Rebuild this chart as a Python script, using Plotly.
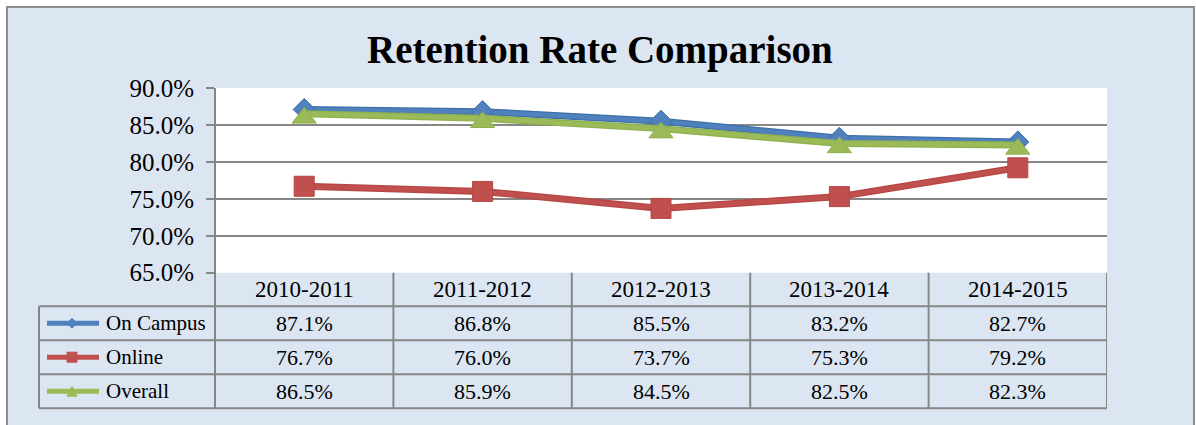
import plotly.graph_objects as go

# ---- data ----
years = ["2010-2011", "2011-2012", "2012-2013", "2013-2014", "2014-2015"]
on_campus = [87.1, 86.8, 85.5, 83.2, 82.7]
online = [76.7, 76.0, 73.7, 75.3, 79.2]
overall = [86.5, 85.9, 84.5, 82.5, 82.3]

series_names = ["On Campus", "Online", "Overall"]
series_values = [on_campus, online, overall]
series_colors = ["#4F81BD", "#C0504D", "#9BBB59"]
series_edges = ["#3F6FA8", "#B64643", "#8FB04E"]
series_symbols = ["diamond", "square", "triangle-up"]
series_marker_sizes = [17, 20, 21]
# shifts triangles so they sit centred on their points
series_standoffs = [0, 0, 4]

y_ticks = [65, 70, 75, 80, 85, 90]

# ---- page geometry (pixels) ----
W, H = 1196, 425
PLOT_L, PLOT_R, PLOT_T, PLOT_B = 215, 1107, 88, 272.7
TABLE_L = 39
ROW_H = 34
ROW_EDGES = [PLOT_B + 33.5 + i * ROW_H for i in range(4)]  # 306.2 .. 408.2
HEADER_MID = (PLOT_B + ROW_EDGES[0]) / 2

GRID = "#878787"
BG = "#DCE6F2"
FONT = "Liberation Serif"


def px(x):
    return x / W


def py(y):
    return 1 - y / H


fig = go.Figure()

for name, vals, col, edge, sym, ms, so in zip(series_names, series_values, series_colors,
                                              series_edges, series_symbols,
                                              series_marker_sizes, series_standoffs):
    # slightly darker, wider stroke underneath gives the line a soft edge
    fig.add_trace(go.Scatter(
        x=years, y=vals, mode="lines", line=dict(color=edge, width=7),
        showlegend=False, hoverinfo="skip", cliponaxis=False,
    ))
    fig.add_trace(go.Scatter(
        x=years, y=vals, name=name, mode="lines+markers",
        line=dict(color=col, width=4.5),
        marker=dict(symbol=sym, size=ms, color=col, standoff=so,
                    line=dict(color=edge, width=1)),
        showlegend=False, cliponaxis=False,
    ))

shapes = []
# chart area background with border
shapes.append(dict(type="rect", xref="paper", yref="paper",
                   x0=px(7), x1=px(1194), y0=py(440), y1=py(7),
                   fillcolor=BG, line=dict(color="#8E8E8E", width=2), layer="below"))
# white plot area
shapes.append(dict(type="rect", xref="paper", yref="paper",
                   x0=px(PLOT_L), x1=px(PLOT_R), y0=py(PLOT_B), y1=py(PLOT_T),
                   fillcolor="white", line=dict(width=0), layer="below"))

line_style = dict(color=GRID, width=2)
# left axis line down through the table
shapes.append(dict(type="line", xref="paper", yref="paper",
                   x0=px(PLOT_L), x1=px(PLOT_L), y0=py(PLOT_T), y1=py(ROW_EDGES[-1]),
                   line=line_style))
# column separators of the data table
for i in range(1, len(years) + 1):
    shapes.append(dict(type="line", xref="x", yref="paper",
                       x0=i - 0.5, x1=i - 0.5, y0=py(PLOT_B), y1=py(ROW_EDGES[-1]),
                       line=line_style))
# row separators
for yy in ROW_EDGES:
    shapes.append(dict(type="line", xref="paper", yref="paper",
                       x0=px(TABLE_L), x1=px(PLOT_R), y0=py(yy), y1=py(yy),
                       line=line_style))
# left border of the row-label column
shapes.append(dict(type="line", xref="paper", yref="paper",
                   x0=px(TABLE_L), x1=px(TABLE_L), y0=py(ROW_EDGES[0]), y1=py(ROW_EDGES[-1]),
                   line=line_style))

annotations = []
# title
annotations.append(dict(text="<b>Retention Rate Comparison</b>", xref="paper", yref="paper",
                        x=px(600), y=py(50), xanchor="center", yanchor="middle",
                        showarrow=False, font=dict(family=FONT, size=39, color="black")))
# header row
for yr in years:
    annotations.append(dict(text=yr, xref="x", yref="paper", x=yr, y=py(HEADER_MID),
                            xanchor="center", yanchor="middle", showarrow=False,
                            font=dict(family=FONT, size=23, color="black")))

# series rows: legend key, name, values
for r, (name, vals, col, sym) in enumerate(zip(series_names, series_values,
                                               series_colors, series_symbols)):
    mid = (ROW_EDGES[r] + ROW_EDGES[r + 1]) / 2
    shapes.append(dict(type="line", xref="paper", yref="paper",
                       x0=px(47), x1=px(99), y0=py(mid), y1=py(mid),
                       line=dict(color=col, width=5)))
    cx, s = 72, 5
    if sym == "diamond":
        path = f"M{px(cx)},{py(mid - s)} L{px(cx + s)},{py(mid)} L{px(cx)},{py(mid + s)} L{px(cx - s)},{py(mid)} Z"
    elif sym == "square":
        path = f"M{px(cx - s)},{py(mid - s)} L{px(cx + s)},{py(mid - s)} L{px(cx + s)},{py(mid + s)} L{px(cx - s)},{py(mid + s)} Z"
    else:
        path = f"M{px(cx)},{py(mid - s)} L{px(cx + s)},{py(mid + s)} L{px(cx - s)},{py(mid + s)} Z"
    shapes.append(dict(type="path", xref="paper", yref="paper", path=path,
                       fillcolor=col, line=dict(color=col, width=1)))
    annotations.append(dict(text=name, xref="paper", yref="paper", x=px(104), y=py(mid),
                            xanchor="left", yanchor="middle", showarrow=False,
                            font=dict(family=FONT, size=21, color="black")))
    for yr, v in zip(years, vals):
        annotations.append(dict(text=f"{v:.1f}%", xref="x", yref="paper", x=yr, y=py(mid),
                                xanchor="center", yanchor="middle", showarrow=False,
                                font=dict(family=FONT, size=22, color="black")))

fig.update_layout(
    width=W, height=H,
    margin=dict(l=0, r=0, t=0, b=0, pad=0, autoexpand=False),
    paper_bgcolor="white",
    plot_bgcolor="white",
    shapes=shapes,
    annotations=annotations,
    xaxis=dict(domain=[px(PLOT_L), px(PLOT_R)], range=[-0.5, len(years) - 0.5],
               showticklabels=False, showgrid=False, zeroline=False, showline=False,
               ticks="", type="category", automargin=False),
    yaxis=dict(domain=[py(PLOT_B), py(PLOT_T)], range=[65, 90],
               tickvals=y_ticks, ticktext=[f"{t:.1f}%" for t in y_ticks],
               showgrid=True, gridcolor=GRID, gridwidth=2, zeroline=False,
               showline=False, ticks="outside", ticklen=8, tickwidth=2, tickcolor=GRID,
               tickfont=dict(family=FONT, size=25, color="black"),
               ticklabelstandoff=7, automargin=False),
)

fig.write_html("out.html")
